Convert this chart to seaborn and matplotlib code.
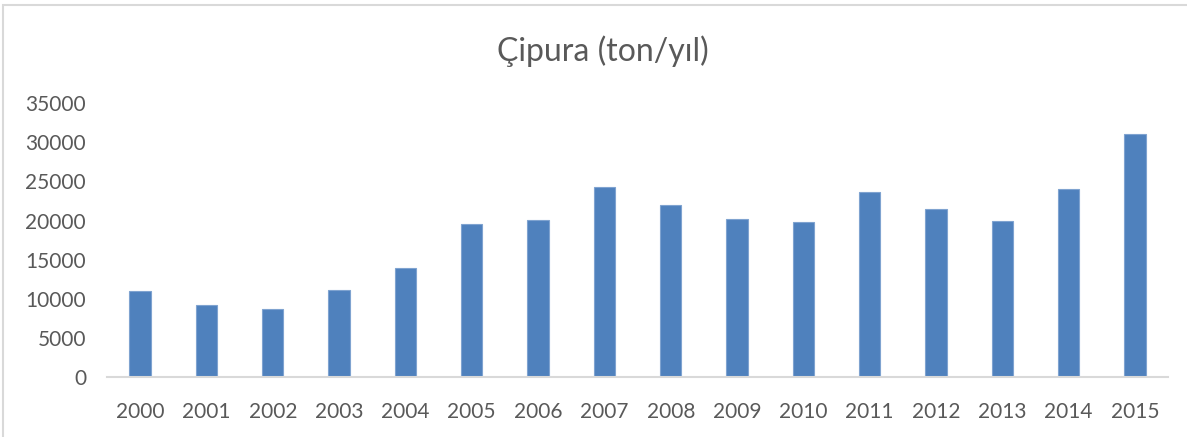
import pandas as pd
import matplotlib.pyplot as plt
import matplotlib.patches as mpatches
import seaborn as sns

# ==================== 数据 ====================
years = ['2000', '2001', '2002', '2003', '2004', '2005', '2006', '2007',
         '2008', '2009', '2010', '2011', '2012', '2013', '2014', '2015']
uretim = [11000, 9150, 8700, 11100, 14000, 19500, 20100, 24250,
          22000, 20200, 19850, 23600, 21500, 20000, 24000, 31000]

df = pd.DataFrame({'Yil': years, 'Ton': uretim})

# ==================== 全局设置 ====================
sns.set_style('white')
plt.rcParams['font.family'] = ['Lato', 'DejaVu Sans']

fig = plt.figure(figsize=(11.87, 4.37), dpi=100)
ax = fig.add_axes([0.0901, 0.137, 0.894, 0.627])

sns.barplot(data=df, x='Yil', y='Ton', color='#4F81BD', width=0.32,
            saturation=1, edgecolor='#7FA3D0', linewidth=0.8, ax=ax)

ax.set_ylim(0, 35000)
ax.set_yticks(range(0, 35001, 5000))
ax.set_xlim(-0.5, len(years) - 0.5)
ax.set_xlabel('')
ax.set_ylabel('')

for s in ['top', 'right', 'left']:
    ax.spines[s].set_visible(False)
ax.spines['bottom'].set_color('#D9D9D9')
ax.spines['bottom'].set_linewidth(1.5)

ax.tick_params(axis='both', length=0, labelsize=15, colors='#595959')
ax.tick_params(axis='x', pad=18)
ax.tick_params(axis='y', pad=15)

fig.text(0.508, 0.883, 'Çipura (ton/yıl)', ha='center', va='center',
         fontsize=23, color='#595959')

# 图框
fig.patches.append(mpatches.Rectangle((3 / 1187, -0.05), 1.1, 1 - 5 / 437 + 0.05,
                                      transform=fig.transFigure, fill=False,
                                      edgecolor='#D9D9D9', linewidth=1.5))

fig.savefig('out.png', dpi=100)
